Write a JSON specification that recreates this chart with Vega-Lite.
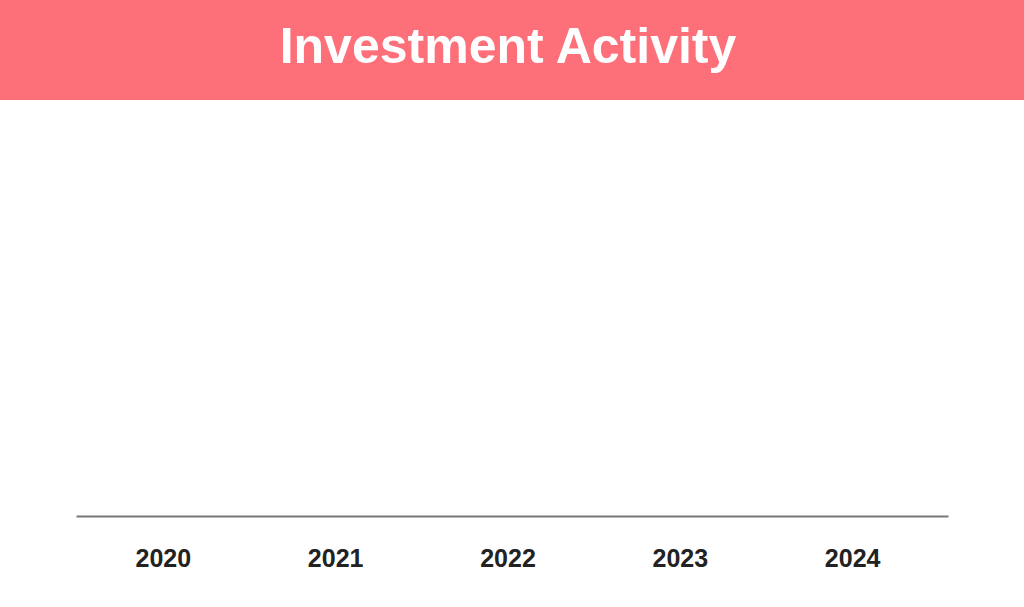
{
  "$schema": "https://vega.github.io/schema/vega-lite/v6.json",
  "padding": 0,
  "background": "white",
  "spacing": 30,
  "center": true,
  "datasets": {
    "banner": [{"label": "Investment Activity"}],
    "activity": [
      {"year": "2020", "value": 0},
      {"year": "2021", "value": 0},
      {"year": "2022", "value": 0},
      {"year": "2023", "value": 0},
      {"year": "2024", "value": 0}
    ]
  },
  "vconcat": [
    {
      "width": 1024,
      "height": 100,
      "view": {"fill": "#fe7079", "stroke": null},
      "data": {"name": "banner"},
      "mark": {
        "type": "text",
        "font": "Liberation Sans",
        "fontWeight": "bold",
        "fontSize": 50,
        "color": "white",
        "align": "center",
        "baseline": "middle",
        "dx": -4,
        "dy": -2
      },
      "encoding": {
        "text": {"field": "label", "type": "nominal"}
      }
    },
    {
      "width": 872,
      "height": 386,
      "view": {"stroke": null},
      "data": {"name": "activity"},
      "mark": {"type": "bar", "color": "#fe7079"},
      "encoding": {
        "x": {
          "field": "year",
          "type": "ordinal",
          "title": null,
          "scale": {"paddingInner": 0.1, "paddingOuter": 0.08},
          "axis": {
            "labelAngle": 0,
            "labelFont": "Liberation Sans",
            "labelFontSize": 25,
            "labelFontWeight": "bold",
            "labelColor": "#222222",
            "labelPadding": 30,
            "labelOffset": -4,
            "ticks": false,
            "domainColor": "#777777",
            "domainWidth": 2,
            "grid": false
          }
        },
        "y": {
          "field": "value",
          "type": "quantitative",
          "scale": {"domain": [0, 100]},
          "axis": null
        }
      }
    }
  ]
}
